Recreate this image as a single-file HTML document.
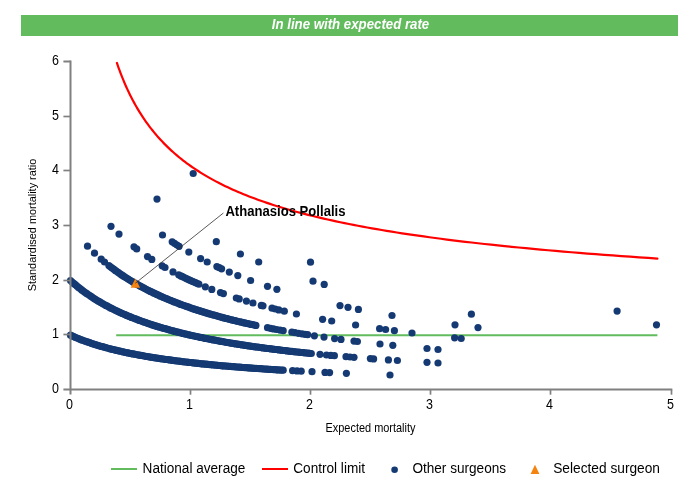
<!DOCTYPE html>
<html lang="en"><head><meta charset="utf-8"><title>In line with expected rate</title>
<style>html,body{margin:0;padding:0;background:#fff}svg{display:block}</style></head>
<body>
<svg width="700" height="500" viewBox="0 0 700 500" font-family="'Liberation Sans', sans-serif">
<rect width="700" height="500" fill="#fff"/>
<rect x="21" y="15" width="657" height="21" fill="#62BB5D"/>
<text transform="translate(350.5,29.0) scale(0.8929,1)" font-size="14.84" text-anchor="middle" fill="#fff" font-weight="bold" font-style="italic">In line with expected rate</text>
<line x1="116.2" y1="335.2" x2="657.4" y2="335.2" stroke="#62BB5D" stroke-width="2"/>
<g fill="#153A73"><circle cx="70.5" cy="335.2" r="3.6"/><circle cx="72.1" cy="335.9" r="3.6"/><circle cx="73.7" cy="336.6" r="3.6"/><circle cx="75.3" cy="337.3" r="3.6"/><circle cx="76.9" cy="338.0" r="3.6"/><circle cx="78.5" cy="338.6" r="3.6"/><circle cx="80.1" cy="339.3" r="3.6"/><circle cx="81.7" cy="339.9" r="3.6"/><circle cx="83.3" cy="340.5" r="3.6"/><circle cx="84.9" cy="341.1" r="3.6"/><circle cx="86.5" cy="341.6" r="3.6"/><circle cx="88.1" cy="342.2" r="3.6"/><circle cx="89.7" cy="342.7" r="3.6"/><circle cx="91.3" cy="343.3" r="3.6"/><circle cx="92.9" cy="343.8" r="3.6"/><circle cx="94.5" cy="344.3" r="3.6"/><circle cx="96.1" cy="344.8" r="3.6"/><circle cx="97.7" cy="345.3" r="3.6"/><circle cx="99.3" cy="345.8" r="3.6"/><circle cx="100.9" cy="346.3" r="3.6"/><circle cx="102.5" cy="346.7" r="3.6"/><circle cx="104.1" cy="347.2" r="3.6"/><circle cx="105.7" cy="347.6" r="3.6"/><circle cx="107.3" cy="348.0" r="3.6"/><circle cx="108.9" cy="348.5" r="3.6"/><circle cx="110.5" cy="348.9" r="3.6"/><circle cx="112.1" cy="349.3" r="3.6"/><circle cx="113.7" cy="349.7" r="3.6"/><circle cx="115.3" cy="350.1" r="3.6"/><circle cx="116.9" cy="350.4" r="3.6"/><circle cx="118.5" cy="350.8" r="3.6"/><circle cx="120.1" cy="351.2" r="3.6"/><circle cx="121.7" cy="351.5" r="3.6"/><circle cx="123.3" cy="351.9" r="3.6"/><circle cx="124.9" cy="352.3" r="3.6"/><circle cx="126.5" cy="352.6" r="3.6"/><circle cx="128.1" cy="352.9" r="3.6"/><circle cx="129.7" cy="353.3" r="3.6"/><circle cx="131.3" cy="353.6" r="3.6"/><circle cx="132.9" cy="353.9" r="3.6"/><circle cx="134.5" cy="354.2" r="3.6"/><circle cx="136.1" cy="354.5" r="3.6"/><circle cx="137.7" cy="354.8" r="3.6"/><circle cx="139.3" cy="355.1" r="3.6"/><circle cx="140.9" cy="355.4" r="3.6"/><circle cx="142.5" cy="355.7" r="3.6"/><circle cx="144.1" cy="356.0" r="3.6"/><circle cx="145.7" cy="356.3" r="3.6"/><circle cx="147.3" cy="356.5" r="3.6"/><circle cx="148.9" cy="356.8" r="3.6"/><circle cx="150.5" cy="357.1" r="3.6"/><circle cx="152.1" cy="357.3" r="3.6"/><circle cx="153.7" cy="357.6" r="3.6"/><circle cx="155.3" cy="357.8" r="3.6"/><circle cx="156.9" cy="358.1" r="3.6"/><circle cx="158.5" cy="358.3" r="3.6"/><circle cx="160.1" cy="358.6" r="3.6"/><circle cx="161.7" cy="358.8" r="3.6"/><circle cx="163.3" cy="359.0" r="3.6"/><circle cx="164.9" cy="359.3" r="3.6"/><circle cx="166.5" cy="359.5" r="3.6"/><circle cx="168.1" cy="359.7" r="3.6"/><circle cx="169.7" cy="359.9" r="3.6"/><circle cx="171.3" cy="360.2" r="3.6"/><circle cx="172.9" cy="360.4" r="3.6"/><circle cx="174.5" cy="360.6" r="3.6"/><circle cx="176.1" cy="360.8" r="3.6"/><circle cx="177.6" cy="361.0" r="3.6"/><circle cx="179.2" cy="361.2" r="3.6"/><circle cx="180.8" cy="361.4" r="3.6"/><circle cx="182.4" cy="361.6" r="3.6"/><circle cx="184.0" cy="361.8" r="3.6"/><circle cx="185.6" cy="362.0" r="3.6"/><circle cx="187.2" cy="362.2" r="3.6"/><circle cx="188.8" cy="362.4" r="3.6"/><circle cx="190.4" cy="362.5" r="3.6"/><circle cx="192.0" cy="362.7" r="3.6"/><circle cx="193.6" cy="362.9" r="3.6"/><circle cx="195.2" cy="363.1" r="3.6"/><circle cx="196.8" cy="363.2" r="3.6"/><circle cx="198.4" cy="363.4" r="3.6"/><circle cx="200.0" cy="363.6" r="3.6"/><circle cx="201.6" cy="363.8" r="3.6"/><circle cx="203.2" cy="363.9" r="3.6"/><circle cx="204.8" cy="364.1" r="3.6"/><circle cx="206.4" cy="364.2" r="3.6"/><circle cx="208.0" cy="364.4" r="3.6"/><circle cx="209.6" cy="364.6" r="3.6"/><circle cx="211.2" cy="364.7" r="3.6"/><circle cx="212.8" cy="364.9" r="3.6"/><circle cx="214.4" cy="365.0" r="3.6"/><circle cx="216.0" cy="365.2" r="3.6"/><circle cx="217.6" cy="365.3" r="3.6"/><circle cx="219.2" cy="365.5" r="3.6"/><circle cx="220.8" cy="365.6" r="3.6"/><circle cx="222.4" cy="365.8" r="3.6"/><circle cx="224.0" cy="365.9" r="3.6"/><circle cx="225.6" cy="366.0" r="3.6"/><circle cx="227.2" cy="366.2" r="3.6"/><circle cx="228.8" cy="366.3" r="3.6"/><circle cx="230.4" cy="366.4" r="3.6"/><circle cx="232.0" cy="366.6" r="3.6"/><circle cx="233.6" cy="366.7" r="3.6"/><circle cx="235.2" cy="366.8" r="3.6"/><circle cx="236.8" cy="367.0" r="3.6"/><circle cx="238.4" cy="367.1" r="3.6"/><circle cx="240.0" cy="367.2" r="3.6"/><circle cx="241.6" cy="367.3" r="3.6"/><circle cx="243.2" cy="367.5" r="3.6"/><circle cx="244.8" cy="367.6" r="3.6"/><circle cx="246.4" cy="367.7" r="3.6"/><circle cx="248.0" cy="367.8" r="3.6"/><circle cx="249.6" cy="367.9" r="3.6"/><circle cx="251.2" cy="368.1" r="3.6"/><circle cx="252.8" cy="368.2" r="3.6"/><circle cx="254.4" cy="368.3" r="3.6"/><circle cx="256.0" cy="368.4" r="3.6"/><circle cx="257.6" cy="368.5" r="3.6"/><circle cx="259.2" cy="368.6" r="3.6"/><circle cx="260.8" cy="368.7" r="3.6"/><circle cx="262.4" cy="368.8" r="3.6"/><circle cx="264.0" cy="369.0" r="3.6"/><circle cx="265.6" cy="369.1" r="3.6"/><circle cx="267.2" cy="369.2" r="3.6"/><circle cx="268.8" cy="369.3" r="3.6"/><circle cx="270.4" cy="369.4" r="3.6"/><circle cx="272.0" cy="369.5" r="3.6"/><circle cx="273.6" cy="369.6" r="3.6"/><circle cx="275.2" cy="369.7" r="3.6"/><circle cx="276.8" cy="369.8" r="3.6"/><circle cx="278.4" cy="369.9" r="3.6"/><circle cx="280.0" cy="370.0" r="3.6"/><circle cx="281.6" cy="370.1" r="3.6"/><circle cx="283.2" cy="370.2" r="3.6"/><circle cx="292.6" cy="370.7" r="3.6"/><circle cx="297.0" cy="370.9" r="3.6"/><circle cx="301.2" cy="371.2" r="3.6"/><circle cx="312.0" cy="371.7" r="3.6"/><circle cx="325.0" cy="372.4" r="3.6"/><circle cx="329.6" cy="372.6" r="3.6"/><circle cx="346.4" cy="373.3" r="3.6"/><circle cx="390.0" cy="375.0" r="3.6"/><circle cx="70.5" cy="280.5" r="3.6"/><circle cx="72.1" cy="282.0" r="3.6"/><circle cx="73.7" cy="283.4" r="3.6"/><circle cx="75.3" cy="284.7" r="3.6"/><circle cx="76.9" cy="286.1" r="3.6"/><circle cx="78.5" cy="287.4" r="3.6"/><circle cx="80.1" cy="288.6" r="3.6"/><circle cx="81.7" cy="289.9" r="3.6"/><circle cx="83.3" cy="291.1" r="3.6"/><circle cx="84.9" cy="292.3" r="3.6"/><circle cx="86.6" cy="293.4" r="3.6"/><circle cx="88.2" cy="294.5" r="3.6"/><circle cx="89.8" cy="295.6" r="3.6"/><circle cx="91.4" cy="296.7" r="3.6"/><circle cx="93.0" cy="297.8" r="3.6"/><circle cx="94.6" cy="298.8" r="3.6"/><circle cx="96.2" cy="299.8" r="3.6"/><circle cx="97.8" cy="300.8" r="3.6"/><circle cx="99.4" cy="301.7" r="3.6"/><circle cx="101.0" cy="302.7" r="3.6"/><circle cx="102.6" cy="303.6" r="3.6"/><circle cx="104.2" cy="304.5" r="3.6"/><circle cx="105.8" cy="305.4" r="3.6"/><circle cx="107.4" cy="306.2" r="3.6"/><circle cx="109.0" cy="307.1" r="3.6"/><circle cx="110.6" cy="307.9" r="3.6"/><circle cx="112.2" cy="308.7" r="3.6"/><circle cx="113.8" cy="309.5" r="3.6"/><circle cx="115.4" cy="310.3" r="3.6"/><circle cx="117.1" cy="311.1" r="3.6"/><circle cx="118.7" cy="311.8" r="3.6"/><circle cx="120.3" cy="312.6" r="3.6"/><circle cx="121.9" cy="313.3" r="3.6"/><circle cx="123.5" cy="314.0" r="3.6"/><circle cx="125.1" cy="314.7" r="3.6"/><circle cx="126.7" cy="315.4" r="3.6"/><circle cx="128.3" cy="316.1" r="3.6"/><circle cx="129.9" cy="316.7" r="3.6"/><circle cx="131.5" cy="317.4" r="3.6"/><circle cx="133.1" cy="318.0" r="3.6"/><circle cx="134.7" cy="318.6" r="3.6"/><circle cx="136.3" cy="319.2" r="3.6"/><circle cx="137.9" cy="319.8" r="3.6"/><circle cx="139.5" cy="320.4" r="3.6"/><circle cx="141.1" cy="321.0" r="3.6"/><circle cx="142.7" cy="321.6" r="3.6"/><circle cx="144.3" cy="322.2" r="3.6"/><circle cx="146.0" cy="322.7" r="3.6"/><circle cx="147.6" cy="323.3" r="3.6"/><circle cx="149.2" cy="323.8" r="3.6"/><circle cx="150.8" cy="324.3" r="3.6"/><circle cx="152.4" cy="324.9" r="3.6"/><circle cx="154.0" cy="325.4" r="3.6"/><circle cx="155.6" cy="325.9" r="3.6"/><circle cx="157.2" cy="326.4" r="3.6"/><circle cx="158.8" cy="326.9" r="3.6"/><circle cx="160.4" cy="327.3" r="3.6"/><circle cx="162.0" cy="327.8" r="3.6"/><circle cx="163.6" cy="328.3" r="3.6"/><circle cx="165.2" cy="328.7" r="3.6"/><circle cx="166.8" cy="329.2" r="3.6"/><circle cx="168.4" cy="329.6" r="3.6"/><circle cx="170.0" cy="330.1" r="3.6"/><circle cx="171.6" cy="330.5" r="3.6"/><circle cx="173.2" cy="330.9" r="3.6"/><circle cx="174.8" cy="331.4" r="3.6"/><circle cx="176.5" cy="331.8" r="3.6"/><circle cx="178.1" cy="332.2" r="3.6"/><circle cx="179.7" cy="332.6" r="3.6"/><circle cx="181.3" cy="333.0" r="3.6"/><circle cx="182.9" cy="333.4" r="3.6"/><circle cx="184.5" cy="333.8" r="3.6"/><circle cx="186.1" cy="334.2" r="3.6"/><circle cx="187.7" cy="334.5" r="3.6"/><circle cx="189.3" cy="334.9" r="3.6"/><circle cx="190.9" cy="335.3" r="3.6"/><circle cx="192.5" cy="335.6" r="3.6"/><circle cx="194.1" cy="336.0" r="3.6"/><circle cx="195.7" cy="336.3" r="3.6"/><circle cx="197.3" cy="336.7" r="3.6"/><circle cx="198.9" cy="337.0" r="3.6"/><circle cx="200.5" cy="337.4" r="3.6"/><circle cx="202.1" cy="337.7" r="3.6"/><circle cx="203.7" cy="338.0" r="3.6"/><circle cx="205.3" cy="338.4" r="3.6"/><circle cx="207.0" cy="338.7" r="3.6"/><circle cx="208.6" cy="339.0" r="3.6"/><circle cx="210.2" cy="339.3" r="3.6"/><circle cx="211.8" cy="339.6" r="3.6"/><circle cx="213.4" cy="339.9" r="3.6"/><circle cx="215.0" cy="340.2" r="3.6"/><circle cx="216.6" cy="340.5" r="3.6"/><circle cx="218.2" cy="340.8" r="3.6"/><circle cx="219.8" cy="341.1" r="3.6"/><circle cx="221.4" cy="341.4" r="3.6"/><circle cx="223.0" cy="341.7" r="3.6"/><circle cx="224.6" cy="342.0" r="3.6"/><circle cx="226.2" cy="342.3" r="3.6"/><circle cx="227.8" cy="342.5" r="3.6"/><circle cx="229.4" cy="342.8" r="3.6"/><circle cx="231.0" cy="343.1" r="3.6"/><circle cx="232.6" cy="343.3" r="3.6"/><circle cx="234.2" cy="343.6" r="3.6"/><circle cx="235.8" cy="343.9" r="3.6"/><circle cx="237.5" cy="344.1" r="3.6"/><circle cx="239.1" cy="344.4" r="3.6"/><circle cx="240.7" cy="344.6" r="3.6"/><circle cx="242.3" cy="344.9" r="3.6"/><circle cx="243.9" cy="345.1" r="3.6"/><circle cx="245.5" cy="345.4" r="3.6"/><circle cx="247.1" cy="345.6" r="3.6"/><circle cx="248.7" cy="345.9" r="3.6"/><circle cx="250.3" cy="346.1" r="3.6"/><circle cx="251.9" cy="346.3" r="3.6"/><circle cx="253.5" cy="346.6" r="3.6"/><circle cx="255.1" cy="346.8" r="3.6"/><circle cx="256.7" cy="347.0" r="3.6"/><circle cx="258.3" cy="347.2" r="3.6"/><circle cx="259.9" cy="347.5" r="3.6"/><circle cx="261.5" cy="347.7" r="3.6"/><circle cx="263.1" cy="347.9" r="3.6"/><circle cx="264.7" cy="348.1" r="3.6"/><circle cx="266.4" cy="348.3" r="3.6"/><circle cx="268.0" cy="348.5" r="3.6"/><circle cx="269.6" cy="348.7" r="3.6"/><circle cx="271.2" cy="348.9" r="3.6"/><circle cx="272.8" cy="349.1" r="3.6"/><circle cx="274.4" cy="349.3" r="3.6"/><circle cx="276.0" cy="349.5" r="3.6"/><circle cx="277.6" cy="349.7" r="3.6"/><circle cx="279.2" cy="349.9" r="3.6"/><circle cx="280.8" cy="350.1" r="3.6"/><circle cx="282.4" cy="350.3" r="3.6"/><circle cx="284.0" cy="350.5" r="3.6"/><circle cx="285.6" cy="350.7" r="3.6"/><circle cx="287.2" cy="350.9" r="3.6"/><circle cx="288.8" cy="351.1" r="3.6"/><circle cx="290.4" cy="351.3" r="3.6"/><circle cx="292.0" cy="351.4" r="3.6"/><circle cx="293.6" cy="351.6" r="3.6"/><circle cx="295.2" cy="351.8" r="3.6"/><circle cx="296.9" cy="352.0" r="3.6"/><circle cx="298.5" cy="352.1" r="3.6"/><circle cx="300.1" cy="352.3" r="3.6"/><circle cx="301.7" cy="352.5" r="3.6"/><circle cx="303.3" cy="352.7" r="3.6"/><circle cx="304.9" cy="352.8" r="3.6"/><circle cx="306.5" cy="353.0" r="3.6"/><circle cx="308.1" cy="353.2" r="3.6"/><circle cx="309.7" cy="353.3" r="3.6"/><circle cx="311.3" cy="353.5" r="3.6"/><circle cx="320.0" cy="354.3" r="3.6"/><circle cx="326.5" cy="355.0" r="3.6"/><circle cx="330.8" cy="355.4" r="3.6"/><circle cx="334.4" cy="355.7" r="3.6"/><circle cx="346.0" cy="356.7" r="3.6"/><circle cx="350.0" cy="357.0" r="3.6"/><circle cx="354.0" cy="357.3" r="3.6"/><circle cx="370.4" cy="358.6" r="3.6"/><circle cx="373.6" cy="358.9" r="3.6"/><circle cx="388.4" cy="359.9" r="3.6"/><circle cx="397.4" cy="360.5" r="3.6"/><circle cx="427.0" cy="362.3" r="3.6"/><circle cx="438.0" cy="363.0" r="3.6"/><circle cx="87.5" cy="246.2" r="3.6"/><circle cx="94.5" cy="253.2" r="3.6"/><circle cx="101.2" cy="259.2" r="3.6"/><circle cx="104.5" cy="262.0" r="3.6"/><circle cx="108.9" cy="265.6" r="3.6"/><circle cx="110.5" cy="266.8" r="3.6"/><circle cx="112.1" cy="268.0" r="3.6"/><circle cx="113.7" cy="269.2" r="3.6"/><circle cx="115.3" cy="270.4" r="3.6"/><circle cx="116.9" cy="271.5" r="3.6"/><circle cx="118.5" cy="272.7" r="3.6"/><circle cx="120.1" cy="273.8" r="3.6"/><circle cx="121.7" cy="274.9" r="3.6"/><circle cx="123.3" cy="275.9" r="3.6"/><circle cx="124.9" cy="277.0" r="3.6"/><circle cx="126.5" cy="278.0" r="3.6"/><circle cx="128.1" cy="279.0" r="3.6"/><circle cx="129.7" cy="280.0" r="3.6"/><circle cx="131.3" cy="281.0" r="3.6"/><circle cx="132.9" cy="281.9" r="3.6"/><circle cx="134.5" cy="282.8" r="3.6"/><circle cx="136.1" cy="283.8" r="3.6"/><circle cx="137.7" cy="284.7" r="3.6"/><circle cx="139.3" cy="285.6" r="3.6"/><circle cx="140.9" cy="286.4" r="3.6"/><circle cx="142.5" cy="287.3" r="3.6"/><circle cx="144.1" cy="288.1" r="3.6"/><circle cx="145.7" cy="289.0" r="3.6"/><circle cx="147.2" cy="289.8" r="3.6"/><circle cx="148.8" cy="290.6" r="3.6"/><circle cx="150.4" cy="291.4" r="3.6"/><circle cx="152.0" cy="292.2" r="3.6"/><circle cx="153.6" cy="292.9" r="3.6"/><circle cx="155.2" cy="293.7" r="3.6"/><circle cx="156.8" cy="294.4" r="3.6"/><circle cx="158.4" cy="295.2" r="3.6"/><circle cx="160.0" cy="295.9" r="3.6"/><circle cx="161.6" cy="296.6" r="3.6"/><circle cx="163.2" cy="297.3" r="3.6"/><circle cx="164.8" cy="298.0" r="3.6"/><circle cx="166.4" cy="298.7" r="3.6"/><circle cx="168.0" cy="299.3" r="3.6"/><circle cx="169.6" cy="300.0" r="3.6"/><circle cx="171.2" cy="300.7" r="3.6"/><circle cx="172.8" cy="301.3" r="3.6"/><circle cx="174.4" cy="301.9" r="3.6"/><circle cx="176.0" cy="302.5" r="3.6"/><circle cx="177.6" cy="303.2" r="3.6"/><circle cx="179.2" cy="303.8" r="3.6"/><circle cx="180.8" cy="304.4" r="3.6"/><circle cx="182.4" cy="305.0" r="3.6"/><circle cx="184.0" cy="305.5" r="3.6"/><circle cx="185.6" cy="306.1" r="3.6"/><circle cx="187.2" cy="306.7" r="3.6"/><circle cx="188.8" cy="307.2" r="3.6"/><circle cx="190.4" cy="307.8" r="3.6"/><circle cx="192.0" cy="308.3" r="3.6"/><circle cx="193.6" cy="308.9" r="3.6"/><circle cx="195.2" cy="309.4" r="3.6"/><circle cx="196.8" cy="309.9" r="3.6"/><circle cx="198.4" cy="310.4" r="3.6"/><circle cx="200.0" cy="310.9" r="3.6"/><circle cx="201.6" cy="311.4" r="3.6"/><circle cx="203.2" cy="311.9" r="3.6"/><circle cx="204.8" cy="312.4" r="3.6"/><circle cx="206.4" cy="312.9" r="3.6"/><circle cx="208.0" cy="313.4" r="3.6"/><circle cx="209.6" cy="313.9" r="3.6"/><circle cx="211.2" cy="314.3" r="3.6"/><circle cx="212.8" cy="314.8" r="3.6"/><circle cx="214.4" cy="315.2" r="3.6"/><circle cx="216.0" cy="315.7" r="3.6"/><circle cx="217.6" cy="316.1" r="3.6"/><circle cx="219.2" cy="316.6" r="3.6"/><circle cx="220.7" cy="317.0" r="3.6"/><circle cx="222.3" cy="317.4" r="3.6"/><circle cx="223.9" cy="317.9" r="3.6"/><circle cx="225.5" cy="318.3" r="3.6"/><circle cx="227.1" cy="318.7" r="3.6"/><circle cx="228.7" cy="319.1" r="3.6"/><circle cx="230.3" cy="319.5" r="3.6"/><circle cx="231.9" cy="319.9" r="3.6"/><circle cx="233.5" cy="320.3" r="3.6"/><circle cx="235.1" cy="320.7" r="3.6"/><circle cx="236.7" cy="321.1" r="3.6"/><circle cx="238.3" cy="321.5" r="3.6"/><circle cx="239.9" cy="321.8" r="3.6"/><circle cx="241.5" cy="322.2" r="3.6"/><circle cx="243.1" cy="322.6" r="3.6"/><circle cx="244.7" cy="322.9" r="3.6"/><circle cx="246.3" cy="323.3" r="3.6"/><circle cx="247.9" cy="323.7" r="3.6"/><circle cx="249.5" cy="324.0" r="3.6"/><circle cx="251.1" cy="324.4" r="3.6"/><circle cx="252.7" cy="324.7" r="3.6"/><circle cx="254.3" cy="325.0" r="3.6"/><circle cx="255.9" cy="325.4" r="3.6"/><circle cx="267.5" cy="327.7" r="3.6"/><circle cx="270.5" cy="328.3" r="3.6"/><circle cx="273.5" cy="328.9" r="3.6"/><circle cx="276.6" cy="329.5" r="3.6"/><circle cx="280.0" cy="330.1" r="3.6"/><circle cx="283.2" cy="330.7" r="3.6"/><circle cx="291.9" cy="332.2" r="3.6"/><circle cx="295.0" cy="332.7" r="3.6"/><circle cx="298.5" cy="333.3" r="3.6"/><circle cx="302.0" cy="333.8" r="3.6"/><circle cx="305.0" cy="334.3" r="3.6"/><circle cx="307.6" cy="334.7" r="3.6"/><circle cx="314.4" cy="335.8" r="3.6"/><circle cx="324.0" cy="337.1" r="3.6"/><circle cx="334.6" cy="338.6" r="3.6"/><circle cx="341.0" cy="339.4" r="3.6"/><circle cx="354.0" cy="341.1" r="3.6"/><circle cx="357.4" cy="341.5" r="3.6"/><circle cx="380.0" cy="344.0" r="3.6"/><circle cx="392.8" cy="345.3" r="3.6"/><circle cx="427.0" cy="348.5" r="3.6"/><circle cx="438.0" cy="349.5" r="3.6"/><circle cx="111.0" cy="226.3" r="3.6"/><circle cx="119.0" cy="234.1" r="3.6"/><circle cx="134.0" cy="246.8" r="3.6"/><circle cx="136.7" cy="248.9" r="3.6"/><circle cx="147.5" cy="256.6" r="3.6"/><circle cx="151.8" cy="259.4" r="3.6"/><circle cx="162.2" cy="265.8" r="3.6"/><circle cx="165.0" cy="267.5" r="3.6"/><circle cx="173.0" cy="271.9" r="3.6"/><circle cx="178.7" cy="274.8" r="3.6"/><circle cx="180.9" cy="275.9" r="3.6"/><circle cx="182.5" cy="276.7" r="3.6"/><circle cx="184.2" cy="277.5" r="3.6"/><circle cx="185.8" cy="278.3" r="3.6"/><circle cx="187.4" cy="279.1" r="3.6"/><circle cx="189.1" cy="279.8" r="3.6"/><circle cx="190.7" cy="280.6" r="3.6"/><circle cx="192.4" cy="281.3" r="3.6"/><circle cx="194.0" cy="282.0" r="3.6"/><circle cx="195.6" cy="282.7" r="3.6"/><circle cx="197.3" cy="283.5" r="3.6"/><circle cx="198.9" cy="284.2" r="3.6"/><circle cx="205.3" cy="286.8" r="3.6"/><circle cx="211.8" cy="289.4" r="3.6"/><circle cx="220.5" cy="292.6" r="3.6"/><circle cx="223.4" cy="293.6" r="3.6"/><circle cx="236.3" cy="298.0" r="3.6"/><circle cx="239.2" cy="298.9" r="3.6"/><circle cx="246.4" cy="301.1" r="3.6"/><circle cx="252.9" cy="303.0" r="3.6"/><circle cx="261.3" cy="305.4" r="3.6"/><circle cx="263.0" cy="305.8" r="3.6"/><circle cx="272.0" cy="308.2" r="3.6"/><circle cx="275.2" cy="309.0" r="3.6"/><circle cx="278.8" cy="309.9" r="3.6"/><circle cx="284.3" cy="311.2" r="3.6"/><circle cx="296.4" cy="314.0" r="3.6"/><circle cx="322.6" cy="319.3" r="3.6"/><circle cx="331.7" cy="321.0" r="3.6"/><circle cx="355.6" cy="325.0" r="3.6"/><circle cx="379.6" cy="328.7" r="3.6"/><circle cx="385.6" cy="329.5" r="3.6"/><circle cx="394.4" cy="330.7" r="3.6"/><circle cx="412.0" cy="333.0" r="3.6"/><circle cx="454.6" cy="337.8" r="3.6"/><circle cx="461.2" cy="338.5" r="3.6"/><circle cx="162.5" cy="235.0" r="3.6"/><circle cx="172.2" cy="241.8" r="3.6"/><circle cx="174.5" cy="243.3" r="3.6"/><circle cx="177.0" cy="245.0" r="3.6"/><circle cx="179.1" cy="246.3" r="3.6"/><circle cx="188.8" cy="252.1" r="3.6"/><circle cx="200.6" cy="258.6" r="3.6"/><circle cx="207.2" cy="262.0" r="3.6"/><circle cx="216.9" cy="266.6" r="3.6"/><circle cx="219.3" cy="267.7" r="3.6"/><circle cx="221.6" cy="268.8" r="3.6"/><circle cx="229.3" cy="272.1" r="3.6"/><circle cx="237.8" cy="275.6" r="3.6"/><circle cx="250.6" cy="280.5" r="3.6"/><circle cx="267.5" cy="286.3" r="3.6"/><circle cx="276.9" cy="289.3" r="3.6"/><circle cx="340.0" cy="305.6" r="3.6"/><circle cx="348.0" cy="307.3" r="3.6"/><circle cx="358.4" cy="309.4" r="3.6"/><circle cx="392.0" cy="315.5" r="3.6"/><circle cx="455.0" cy="324.8" r="3.6"/><circle cx="478.0" cy="327.6" r="3.6"/><circle cx="157.0" cy="199.1" r="3.6"/><circle cx="216.3" cy="241.7" r="3.6"/><circle cx="240.4" cy="254.0" r="3.6"/><circle cx="258.7" cy="262.0" r="3.6"/><circle cx="313.0" cy="281.2" r="3.6"/><circle cx="324.2" cy="284.4" r="3.6"/><circle cx="471.4" cy="314.2" r="3.6"/><circle cx="310.5" cy="262.2" r="3.6"/><circle cx="656.5" cy="324.8" r="3.6"/><circle cx="193.2" cy="173.5" r="3.6"/><circle cx="617.1" cy="311.1" r="3.6"/></g>
<polygon points="135.4,278.6 140.1,287.8 130.7,287.8" fill="#F4830F"/>
<line x1="223.4" y1="213.0" x2="135.4" y2="283.2" stroke="#303030" stroke-width="0.8"/>
<path d="M116.91,62.98 L117.65,65.13 L118.40,67.26 L119.17,69.37 L119.94,71.47 L120.73,73.56 L121.54,75.62 L122.35,77.67 L123.18,79.70 L124.02,81.72 L124.88,83.72 L125.75,85.71 L126.63,87.68 L127.53,89.63 L128.44,91.57 L129.36,93.49 L130.30,95.40 L131.26,97.30 L132.23,99.17 L133.22,101.04 L134.22,102.89 L135.24,104.72 L136.27,106.54 L137.32,108.35 L138.39,110.14 L139.47,111.91 L140.58,113.68 L141.70,115.42 L142.83,117.16 L143.99,118.88 L145.16,120.59 L146.36,122.28 L147.57,123.96 L148.80,125.63 L150.05,127.29 L151.32,128.93 L152.62,130.56 L153.93,132.17 L155.26,133.77 L156.62,135.36 L157.99,136.94 L159.39,138.51 L160.81,140.06 L162.26,141.60 L163.72,143.13 L165.21,144.64 L166.73,146.15 L168.26,147.64 L169.83,149.12 L171.41,150.59 L173.03,152.05 L174.67,153.49 L176.33,154.93 L178.02,156.35 L179.74,157.76 L181.49,159.16 L183.26,160.55 L185.06,161.93 L186.89,163.30 L188.76,164.65 L190.65,166.00 L192.57,167.34 L194.52,168.66 L196.50,169.97 L198.51,171.28 L200.56,172.57 L202.64,173.86 L204.75,175.13 L206.90,176.39 L209.08,177.65 L211.29,178.89 L213.54,180.12 L215.83,181.35 L218.15,182.56 L220.51,183.77 L222.91,184.96 L225.35,186.15 L227.82,187.32 L230.34,188.49 L232.89,189.65 L235.49,190.80 L238.13,191.94 L240.81,193.07 L243.53,194.19 L246.30,195.30 L249.11,196.40 L251.96,197.50 L254.86,198.59 L257.81,199.66 L260.81,200.73 L263.85,201.79 L266.94,202.85 L270.08,203.89 L273.27,204.93 L276.51,205.95 L279.81,206.97 L283.15,207.99 L286.55,208.99 L290.01,209.99 L293.52,210.97 L297.08,211.95 L300.71,212.93 L304.39,213.89 L308.13,214.85 L311.92,215.80 L315.78,216.74 L319.71,217.67 L323.69,218.60 L327.74,219.52 L331.85,220.43 L336.03,221.34 L340.28,222.24 L344.59,223.13 L348.97,224.01 L353.42,224.89 L357.95,225.76 L362.54,226.62 L367.21,227.48 L371.96,228.33 L376.78,229.17 L381.67,230.01 L386.65,230.84 L391.70,231.66 L396.84,232.48 L402.06,233.29 L407.36,234.09 L412.74,234.89 L418.22,235.68 L423.78,236.46 L429.42,237.24 L435.16,238.02 L440.99,238.78 L446.92,239.54 L452.94,240.30 L459.05,241.05 L465.26,241.79 L471.58,242.52 L477.99,243.25 L484.51,243.98 L491.13,244.70 L497.85,245.41 L504.68,246.12 L511.63,246.82 L518.68,247.52 L525.85,248.21 L533.13,248.90 L540.52,249.58 L548.04,250.25 L555.68,250.92 L563.43,251.59 L571.32,252.25 L579.32,252.90 L587.46,253.55 L595.73,254.19 L604.12,254.83 L612.66,255.46 L621.33,256.09 L630.13,256.72 L639.08,257.34 L648.17,257.95 L657.41,258.56" fill="none" stroke="#FF0000" stroke-width="2.2" stroke-linejoin="round" stroke-linecap="round"/>
<text transform="translate(225.4,215.7) scale(0.9091,1)" font-size="14.41" text-anchor="start" fill="#000" font-weight="bold">Athanasios Pollalis</text>
<g stroke="#808080" stroke-width="1.8" fill="none">
<line x1="70.5" y1="60.5" x2="70.5" y2="394.5" stroke-width="2"/>
<line x1="63.4" y1="389.5" x2="672.3" y2="389.5" stroke-width="2"/>
<line x1="63.4" y1="334.5" x2="70.5" y2="334.5" stroke-width="1.7"/>
<line x1="63.4" y1="280.5" x2="70.5" y2="280.5" stroke-width="1.7"/>
<line x1="63.4" y1="225.5" x2="70.5" y2="225.5" stroke-width="1.7"/>
<line x1="63.4" y1="170.5" x2="70.5" y2="170.5" stroke-width="1.7"/>
<line x1="63.4" y1="116.5" x2="70.5" y2="116.5" stroke-width="1.7"/>
<line x1="63.4" y1="61.5" x2="70.5" y2="61.5" stroke-width="2"/>
<line x1="190.5" y1="389.5" x2="190.5" y2="394.7" stroke-width="1.7"/>
<line x1="310.5" y1="389.5" x2="310.5" y2="394.7" stroke-width="1.7"/>
<line x1="430.5" y1="389.5" x2="430.5" y2="394.7" stroke-width="1.7"/>
<line x1="550.5" y1="389.5" x2="550.5" y2="394.7" stroke-width="1.7"/>
<line x1="671.5" y1="389.5" x2="671.5" y2="394.7" stroke-width="1.7"/>
</g>
<text transform="translate(59.0,392.9) scale(0.8197,1)" font-size="15.25" text-anchor="end" fill="#000" >0</text>
<text transform="translate(59.0,337.9) scale(0.8197,1)" font-size="15.25" text-anchor="end" fill="#000" >1</text>
<text transform="translate(59.0,283.9) scale(0.8197,1)" font-size="15.25" text-anchor="end" fill="#000" >2</text>
<text transform="translate(59.0,228.9) scale(0.8197,1)" font-size="15.25" text-anchor="end" fill="#000" >3</text>
<text transform="translate(59.0,173.9) scale(0.8197,1)" font-size="15.25" text-anchor="end" fill="#000" >4</text>
<text transform="translate(59.0,119.9) scale(0.8197,1)" font-size="15.25" text-anchor="end" fill="#000" >5</text>
<text transform="translate(59.0,64.9) scale(0.8197,1)" font-size="15.25" text-anchor="end" fill="#000" >6</text>
<text transform="translate(69.5,409.2) scale(0.8197,1)" font-size="15.25" text-anchor="middle" fill="#000" >0</text>
<text transform="translate(189.5,409.2) scale(0.8197,1)" font-size="15.25" text-anchor="middle" fill="#000" >1</text>
<text transform="translate(309.5,409.2) scale(0.8197,1)" font-size="15.25" text-anchor="middle" fill="#000" >2</text>
<text transform="translate(429.5,409.2) scale(0.8197,1)" font-size="15.25" text-anchor="middle" fill="#000" >3</text>
<text transform="translate(549.5,409.2) scale(0.8197,1)" font-size="15.25" text-anchor="middle" fill="#000" >4</text>
<text transform="translate(670.5,409.2) scale(0.8197,1)" font-size="15.25" text-anchor="middle" fill="#000" >5</text>
<text transform="translate(370.5,432.0) scale(0.8929,1)" font-size="12.26" text-anchor="middle" fill="#000" >Expected mortality</text>
<text transform="translate(36.0,225) rotate(-90) scale(1.0000,1)" font-size="10.90" text-anchor="middle" fill="#000" >Standardised mortality ratio</text>
<line x1="111" y1="469" x2="137" y2="469" stroke="#62BB5D" stroke-width="2"/>
<line x1="262" y1="469" x2="288" y2="469" stroke="#FF0000" stroke-width="2"/>
<circle cx="394.6" cy="469.7" r="3.3" fill="#153A73"/>
<polygon points="535,464.8 539.4,473.9 530.6,473.9" fill="#F4830F"/>
<text transform="translate(142.6,472.8) scale(0.8929,1)" font-size="15.23" text-anchor="start" fill="#000" >National average</text>
<text transform="translate(293.3,472.8) scale(0.8929,1)" font-size="15.23" text-anchor="start" fill="#000" >Control limit</text>
<text transform="translate(412.4,472.8) scale(0.8929,1)" font-size="15.23" text-anchor="start" fill="#000" >Other surgeons</text>
<text transform="translate(553.2,472.8) scale(0.8929,1)" font-size="15.37" text-anchor="start" fill="#000" >Selected surgeon</text>
</svg>
</body></html>
